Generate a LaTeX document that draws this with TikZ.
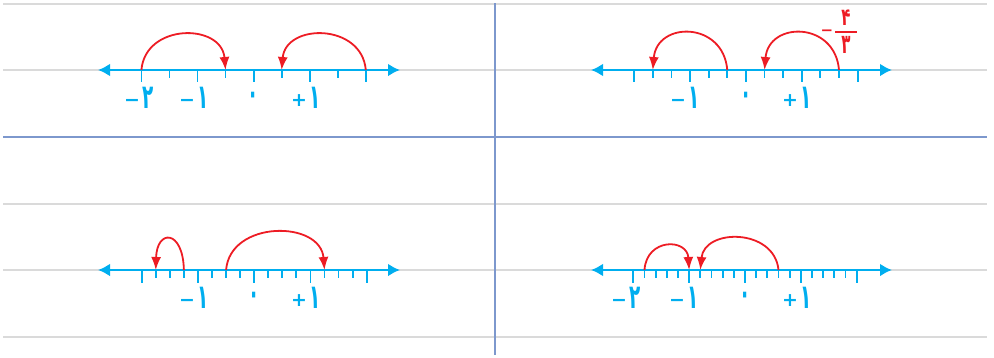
\documentclass[tikz,border=0pt]{standalone}
\usepackage{fontspec}
\usepackage{graphicx}
\usetikzlibrary{arrows.meta}
\newfontfamily\fa{DejaVu Sans}
\newcommand\tdg[1]{\scalebox{1.15}[2.1]{#1}}
\newcommand\sgn[1]{\raisebox{2.5pt}{\fontsize{19}{19}\selectfont #1}}
\definecolor{axiscol}{HTML}{00AEEF}
\definecolor{jumpcol}{HTML}{ED1C24}
\definecolor{rulecol}{HTML}{DADADA}
\definecolor{divcol}{HTML}{7D98CD}
\tikzset{
  ruleline/.style={rulecol, line width=2pt},
  divline/.style={divcol, line width=2pt},
  axisline/.style={axiscol, line width=2.6pt, {Latex[length=12pt,width=13pt]}-{Latex[length=12pt,width=13pt]}},
  tickmark/.style={axiscol, line width=1.8pt},
  jump/.style={jumpcol, line width=1.8pt, -{Latex[length=13pt,width=10pt]}},
  numlabel/.style={axiscol, font=\fa\bfseries\fontsize{16}{16}\selectfont, inner sep=0pt},
  fraclabel/.style={jumpcol, font=\fa\bfseries\fontsize{15}{15}\selectfont, inner sep=0pt}
}
\begin{document}
\begin{tikzpicture}[x=1pt,y=-1pt]
\useasboundingbox (0,0) rectangle (994,357);
% background rules
\foreach \yy in {4,70,204,270,337}{\draw[ruleline] (3,\yy) -- (987,\yy);}
\draw[divline] (3,136.5) -- (987,136.5);
\draw[divline] (495,3) -- (495,355);

% ---------- panel 1 (halves) ----------
\coordinate (A1L) at (98,70); \coordinate (A1R) at (400,70);
\draw[axisline] (A1L) -- (A1R);
\foreach \k in {-4,...,4}{
  \pgfmathsetmacro\len{mod(abs(\k),2)==0 ? 12 : 7.5}
  \draw[tickmark] ({253.6+\k*28.05},69) -- ++(0,\len+1);
}
\coordinate (a1s) at ({253.6-4*28.05},70);
\coordinate (a1e) at ({253.6-1*28.05},70);
\coordinate (b1s) at ({253.6+4*28.05},70);
\coordinate (b1e) at ({253.6+1*28.05},70);
\draw[jump] (a1s) .. controls +(4,-47) and +(-4,-47) .. (a1e);
\draw[jump] (b1s) .. controls +(-4,-47) and +(4,-47) .. (b1e);
\node[numlabel] (l1a) at (139,98) {\sgn{−}\,\tdg{۲}};
\node[numlabel] (l1b) at (194,98) {\sgn{−}\,\tdg{۱}};
\node[numlabel] (l1c) at (253.6,98) {\tdg{۰}};
\node[numlabel] (l1d) at (306,98) {\sgn{+}\,\tdg{۱}};

% ---------- panel 2 (thirds) ----------
\coordinate (A2L) at (591,70); \coordinate (A2R) at (892,70);
\draw[axisline] (A2L) -- (A2R);
\foreach \k in {-6,...,6}{
  \pgfmathsetmacro\len{mod(abs(\k),3)==0 ? 12 : 7.5}
  \draw[tickmark] ({745.9+\k*18.62},69) -- ++(0,\len+1);
}
\coordinate (a2s) at ({745.9-1*18.62},70);
\coordinate (a2e) at ({745.9-5*18.62},70);
\coordinate (b2s) at ({745.9+5*18.62},70);
\coordinate (b2e) at ({745.9+1*18.62},70);
\draw[jump] (a2s) .. controls +(-4,-49) and +(4,-49) .. (a2e);
\draw[jump] (b2s) .. controls +(-4,-49) and +(4,-49) .. (b2e);
\node[numlabel] (l2b) at (685,98) {\sgn{−}\,\tdg{۱}};
\node[numlabel] (l2c) at (745.9,98) {\tdg{۰}};
\node[numlabel] (l2d) at (797,98) {\sgn{+}\,\tdg{۱}};
\node[fraclabel] (f2m) at (827,33) {−};
\node[fraclabel] (f2n) at (846,18) {\scalebox{1}[1.6]{۴}};
\node[fraclabel] (f2d) at (846,45) {\scalebox{1}[1.8]{۳}};
\draw[jumpcol, line width=1.2pt] (835,32) -- (857,32);

% ---------- panel 3 (quarters) ----------
\coordinate (A3L) at (98,270); \coordinate (A3R) at (400,270);
\draw[axisline] (A3L) -- (A3R);
\foreach \k in {-8,...,8}{
  \pgfmathsetmacro\len{mod(abs(\k),4)==0 ? 12.5 : 7.5}
  \draw[tickmark] ({254.2+\k*14.06},269) -- ++(0,\len+1);
}
\coordinate (a3s) at ({254.2-5*14.06},270);
\coordinate (a3e) at ({254.2-7*14.06},270);
\coordinate (b3s) at ({254.2-2*14.06},270);
\coordinate (b3e) at ({254.2+5*14.06},270);
\draw[jump] (a3s) .. controls +(-1,-41) and +(1,-41) .. (a3e);
\draw[jump] (b3s) .. controls +(4,-50) and +(-4,-50) .. (b3e);
\node[numlabel] (l3b) at (194,298) {\sgn{−}\,\tdg{۱}};
\node[numlabel] (l3c) at (254.2,298) {\tdg{۰}};
\node[numlabel] (l3d) at (306,298) {\sgn{+}\,\tdg{۱}};

% ---------- panel 4 (fifths) ----------
\coordinate (A4L) at (591,270); \coordinate (A4R) at (892,270);
\draw[axisline] (A4L) -- (A4R);
\foreach \k in {-10,...,10}{
  \pgfmathsetmacro\len{mod(abs(\k),5)==0 ? 12.5 : 7.5}
  \draw[tickmark] ({745+\k*11.17},269) -- ++(0,\len+1);
}
\coordinate (a4s) at ({745-9*11.17},270);
\coordinate (a4e) at ({745-5*11.17},270);
\coordinate (b4s) at ({745+3*11.17},270);
\coordinate (b4e) at ({745-4*11.17},270);
\draw[jump] (a4s) .. controls +(2,-32) and +(-2,-32) .. (a4e);
\draw[jump] (b4s) .. controls +(-4,-42) and +(4,-42) .. (b4e);
\node[numlabel] (l4a) at (626,298) {\sgn{−}\,\tdg{۲}};
\node[numlabel] (l4b) at (684,298) {\sgn{−}\,\tdg{۱}};
\node[numlabel] (l4c) at (745,298) {\tdg{۰}};
\node[numlabel] (l4d) at (797,298) {\sgn{+}\,\tdg{۱}};
\end{tikzpicture}
\end{document}
